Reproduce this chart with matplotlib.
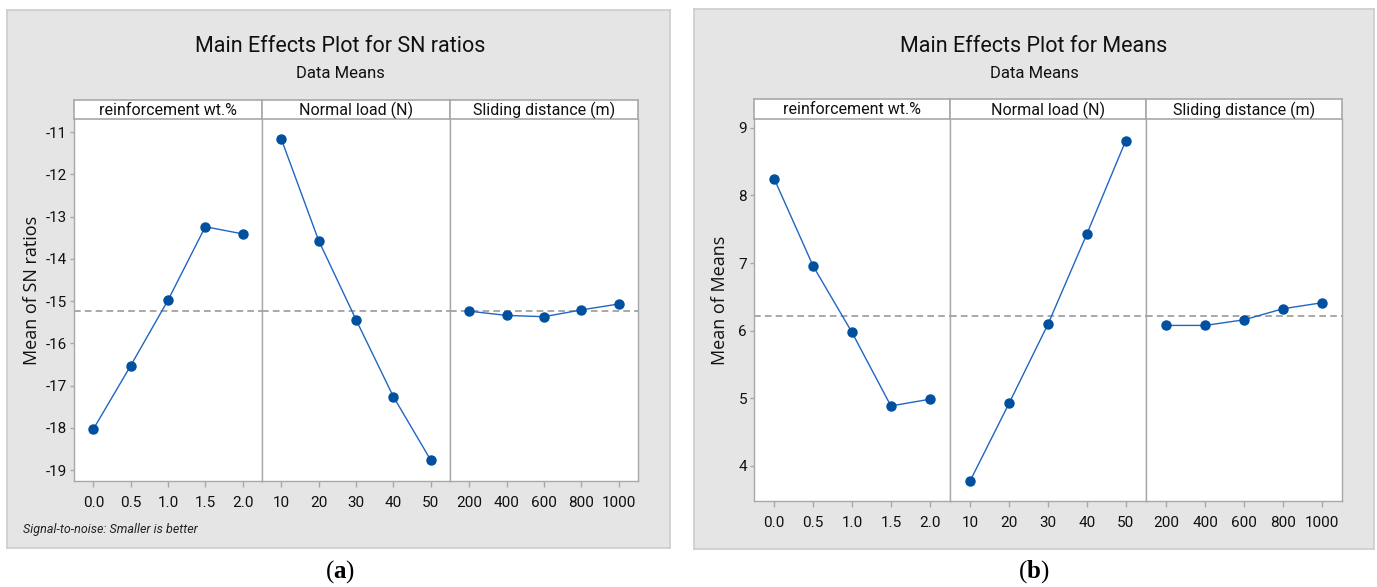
import matplotlib
matplotlib.use('Agg')
import matplotlib.pyplot as plt
import numpy as np

W, H = 1377, 587
fig = plt.figure(figsize=(W / 100, H / 100), dpi=100)
fig.patch.set_facecolor('white')

# ---------------- data ----------------
factors = ["reinforcement wt.%", "Normal load (N)", "Sliding distance (m)"]
levels_reinf = ["0.0", "0.5", "1.0", "1.5", "2.0"]
levels_load = ["10", "20", "30", "40", "50"]
levels_slide = ["200", "400", "600", "800", "1000"]

sn_reinf = [-18.03, -16.53, -14.98, -13.24, -13.41]
sn_load = [-11.17, -13.57, -15.44, -17.26, -18.76]
sn_slide = [-15.24, -15.34, -15.37, -15.21, -15.07]

mean_reinf = [8.245, 6.956, 5.973, 4.886, 4.985]
mean_load = [3.78, 4.926, 6.096, 7.43, 8.81]
mean_slide = [6.077, 6.077, 6.16, 6.323, 6.412]

sn_yticks = [-11, -12, -13, -14, -15, -16, -17, -18, -19]
mean_yticks = [4, 5, 6, 7, 8, 9]

NARROW = ['Roboto', 'DejaVu Sans']
LINE_C = '#1f66c4'
MARK_C = '#0050a0'
SPINE_C = '#a8a8a8'

plt.rcParams['mathtext.fontset'] = 'custom'
plt.rcParams['mathtext.bf'] = 'Liberation Serif:bold'


def fx(x):
    return x / W


def fy(y):
    return 1 - y / H


def panel(box, plot_lr, plot_tb, strip_top, series, ylim, yticks, title,
          title_x, ylabel, ylabel_xy, caption, footnote=None):
    x0, y0, x1, y1 = box
    bg = fig.add_axes([fx(x0), fy(y1), (x1 - x0) / W, (y1 - y0) / H], zorder=-5)
    bg.set_facecolor('#e5e5e5')
    bg.set_xticks([])
    bg.set_yticks([])
    for s in bg.spines.values():
        s.set_color('#cccccc')
        s.set_linewidth(1.2)
    l, r = plot_lr
    t, b = plot_tb
    w = (r - l) / 3
    grand = np.mean(series[0][1])
    levels = [levels_reinf, levels_load, levels_slide]
    for i, (name, vals) in enumerate(series):
        ax = fig.add_axes([fx(l + i * w), fy(b), w / W, (b - t) / H], zorder=2)
        ax.set_facecolor('white')
        xs = np.arange(len(vals))
        ax.axhline(grand, color='#999999', lw=1.2, ls=(0, (4, 2.5)), zorder=1)
        ax.plot(xs, vals, color=LINE_C, lw=1.0, zorder=2)
        ax.plot(xs, vals, 'o', color=MARK_C, ms=6.5, mec=MARK_C, zorder=3)
        ax.set_xlim(-0.52, len(vals) - 0.48)
        ax.set_ylim(*ylim)
        ax.set_xticks(xs)
        ax.set_xticklabels(levels[i], family=NARROW, fontsize=11, color='#111111')
        ax.set_yticks(yticks)
        if i == 0:
            ax.set_yticklabels([f"{v:g}" for v in yticks], family=NARROW,
                               fontsize=11, color='#111111')
        else:
            ax.tick_params(axis='y', left=False, labelleft=False)
        ax.tick_params(axis='x', direction='out', length=4, width=1, color=SPINE_C, pad=7)
        ax.tick_params(axis='y', direction='out', length=3, width=1, color=SPINE_C, pad=2)
        for s in ax.spines.values():
            s.set_color(SPINE_C)
            s.set_linewidth(1.0)
        ax.spines['top'].set_visible(False)
        # strip
        sax = fig.add_axes([fx(l + i * w), fy(t), w / W, (t - strip_top) / H], zorder=2)
        sax.set_facecolor('white')
        sax.set_xticks([])
        sax.set_yticks([])
        for s in sax.spines.values():
            s.set_color(SPINE_C)
            s.set_linewidth(1.2)
        sax.text(0.5, 0.45, name, transform=sax.transAxes, ha='center', va='center',
                 family=NARROW, fontsize=11.5, color='#111111')
    bg.text(fx(title_x), fy(47), title, transform=fig.transFigure, ha='center',
            va='center', family=NARROW, fontsize=15.5, color='#111111')
    bg.text(fx(title_x), fy(74), "Data Means", transform=fig.transFigure, ha='center',
            va='center', family=NARROW, fontsize=12, color='#111111')
    bg.text(fx(ylabel_xy[0]), fy(ylabel_xy[1]), ylabel, transform=fig.transFigure,
            rotation=90, ha='center', va='center', family=['Open Sans', 'DejaVu Sans'],
            fontsize=13, color='#111111')
    if footnote:
        bg.text(fx(23), fy(530), footnote, transform=fig.transFigure, ha='left',
                va='center', family=NARROW, style='italic', fontsize=9,
                color='#222222')
    fig.text(fx(title_x), fy(572), '(' + r'$\mathbf{' + caption + '}$' + ')',
             ha='center', va='center', family=['Liberation Serif', 'DejaVu Serif'],
             fontsize=18, color='black')


panel(box=(7, 10, 670, 548), plot_lr=(74, 638), plot_tb=(119, 481), strip_top=100,
      series=[(factors[0], sn_reinf), (factors[1], sn_load), (factors[2], sn_slide)],
      ylim=(-19.26, -10.69), yticks=sn_yticks,
      title="Main Effects Plot for SN ratios", title_x=340,
      ylabel="Mean of SN ratios", ylabel_xy=(32, 290), caption='a',
      footnote="Signal-to-noise: Smaller is better")

panel(box=(694, 9, 1374, 549), plot_lr=(754, 1342), plot_tb=(119, 501), strip_top=99,
      series=[(factors[0], mean_reinf), (factors[1], mean_load), (factors[2], mean_slide)],
      ylim=(3.48, 9.13), yticks=mean_yticks,
      title="Main Effects Plot for Means", title_x=1034,
      ylabel="Mean of Means", ylabel_xy=(720, 300), caption='b')

fig.savefig('out.png', dpi=100, facecolor='white')
